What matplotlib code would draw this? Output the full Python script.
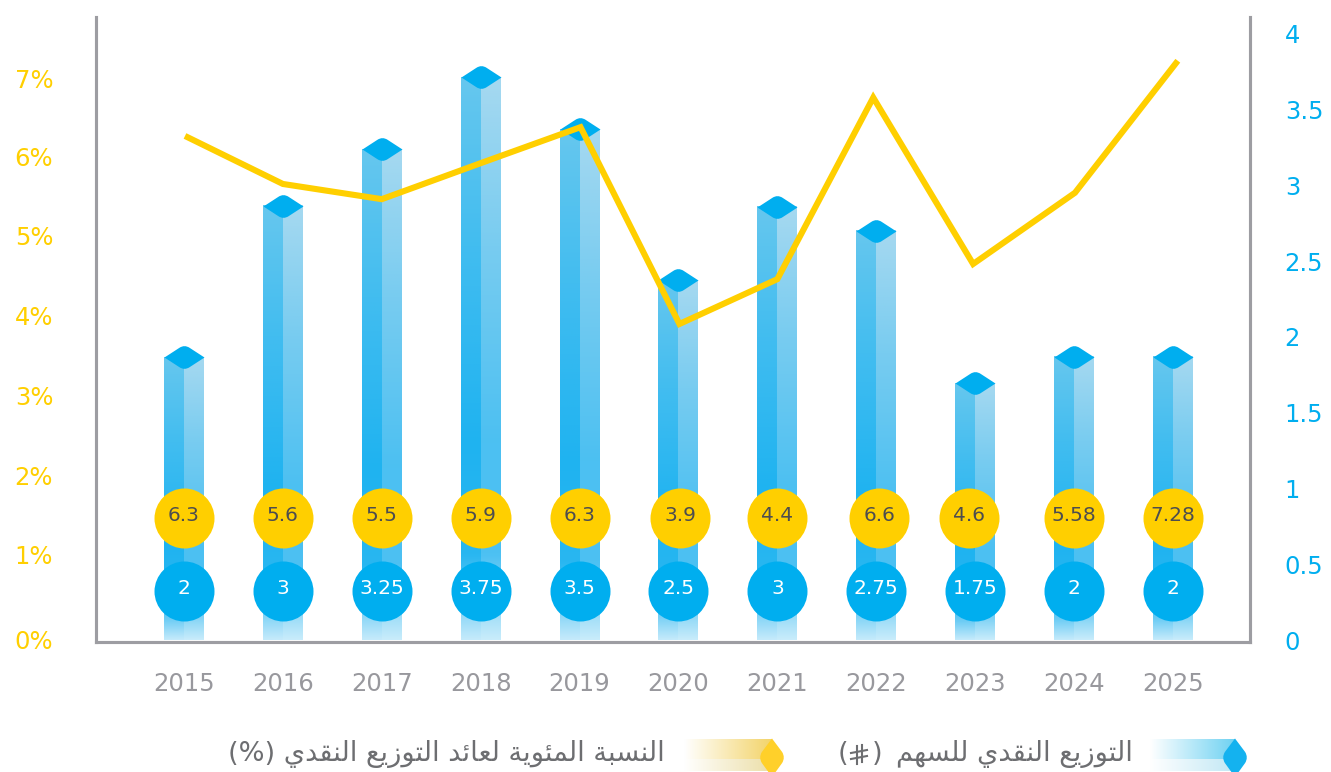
import numpy as np
import matplotlib
matplotlib.use("Agg")
import matplotlib.pyplot as plt
from matplotlib.path import Path
from matplotlib.patches import PathPatch
from matplotlib.lines import Line2D
from matplotlib.colors import to_rgb

plt.rcParams['font.family'] = ['DejaVu Sans']

years = ['2015','2016','2017','2018','2019','2020','2021','2022','2023','2024','2025']
dividend_labels = ['2','3','3.25','3.75','3.5','2.5','3','2.75','1.75','2','2']
yield_labels = ['6.3','5.6','5.5','5.9','6.3','3.9','4.4','6.6','4.6','5.58','7.28']
bar_heights = [1.865,2.865,3.24,3.715,3.37,2.375,2.86,2.70,1.695,1.87,1.87]
yield_line = [6.3,5.7,5.51,5.96,6.41,3.95,4.51,6.78,4.7,5.59,7.24]
yield_line_x = [0.01,0,0,0,0.01,0.01,0,-0.03,-0.02,0.01,0.05]
yield_badge_shift = [0,0,0,0,0,0.02,0,0.03,-0.06,0,0]
left_ticks = ['0%','1%','2%','3%','4%','5%','6%','7%']
left_tick_positions = [0,1.07,2.06,3.06,4.05,5.05,6.04,7.02]
right_ticks = ['0','0.5','1','1.5','2','2.5','3','3.5','4']
legend_dividend = 'التوزيع النقدي للسهم'
legend_yield = 'النسبة المئوية لعائد التوزيع النقدي'

FORMS = {'ا':(0xFE8D,None,None,0xFE8E),'ب':(0xFE8F,0xFE91,0xFE92,0xFE90),'ة':(0xFE93,None,None,0xFE94),
 'ت':(0xFE95,0xFE97,0xFE98,0xFE96),'د':(0xFEA9,None,None,0xFEAA),'ز':(0xFEAF,None,None,0xFEB0),
 'س':(0xFEB1,0xFEB3,0xFEB4,0xFEB2),'ع':(0xFEC9,0xFECB,0xFECC,0xFECA),'ق':(0xFED5,0xFED7,0xFED8,0xFED6),
 'ل':(0xFEDD,0xFEDF,0xFEE0,0xFEDE),'م':(0xFEE1,0xFEE3,0xFEE4,0xFEE2),'ن':(0xFEE5,0xFEE7,0xFEE8,0xFEE6),
 'ه':(0xFEE9,0xFEEB,0xFEEC,0xFEEA),'و':(0xFEED,None,None,0xFEEE),'ي':(0xFEF1,0xFEF3,0xFEF4,0xFEF2),
 'ئ':(0xFE89,0xFE8B,0xFE8C,0xFE8A)}

def shape(s):
    out = []
    for i, c in enumerate(s):
        if c not in FORMS:
            out.append(c); continue
        p = s[i-1] if i else ' '
        n = s[i+1] if i+1 < len(s) else ' '
        jp = p in FORMS and FORMS[p][1] is not None
        jn = n in FORMS and FORMS[c][1] is not None
        f = FORMS[c]
        idx = 2 if jp and jn else 3 if jp else 1 if jn else 0
        out.append(chr(f[idx]))
    return ''.join(reversed(out))

W, H = 1331, 772
fig = plt.figure(figsize=(W/100, H/100), dpi=100, facecolor='white')
L, R, T, B = 96, 1250, 17, 641.5
ax = fig.add_axes([L/W, 1-B/H, (R-L)/W, (B-T)/H])
tw = ax.twinx()
ax.set_zorder(2); ax.patch.set_visible(False)
tw.set_zorder(1)

x = np.arange(len(years))
xlim = (-0.89, 10.78)
yl = (-0.019, 7.787)
yr = (-0.0099, 4.112)

stops_l = [(0,'#66c7ee'),(0.3,'#42bdf0'),(0.65,'#1fb3f0'),(0.85,'#29b7f1'),(0.93,'#6fcdf5'),(1,'#c4eafb')]
stops_r = [(0,'#a6d9f0'),(0.3,'#78ccf0'),(0.65,'#4cc0f2'),(0.85,'#4dc1f3'),(0.93,'#8ad6f6'),(1,'#c8ecfb')]
def grad(stops, n=256):
    pos = [s[0] for s in stops]
    cols = np.array([to_rgb(s[1]) for s in stops])
    t = np.linspace(0, 1, n)
    return np.stack([np.interp(t, pos, cols[:, i]) for i in range(3)], axis=1)
gl, gr = grad(stops_l), grad(stops_r)
bw = 40/98.9
for xi, h in zip(x, bar_heights):
    tw.imshow(gl[:, None, :], extent=(xi-bw/2, xi, 0, h), aspect='auto', zorder=1, interpolation='bilinear')
    tw.imshow(gr[:, None, :], extent=(xi, xi+bw/2, 0, h), aspect='auto', zorder=1, interpolation='bilinear')

# rounded diamond cap
a, b, r = 20, 13, 0.25
cap = Path(np.array([(-a,0),(-a*r,b*(1-r)),(0,b),(a*r,b*(1-r)),(a,0),(a*r,-b*(1-r)),(0,-b),(-a*r,-b*(1-r)),(-a,0),(-a,0)],float)/a,
           [Path.MOVETO,Path.LINETO,Path.CURVE3,Path.CURVE3,Path.LINETO,Path.LINETO,Path.CURVE3,Path.CURVE3,Path.LINETO,Path.CLOSEPOLY])
tw.plot(x, bar_heights, ls='none', marker=cap, ms=40*0.72, mfc='#00AEEF', mec='none', zorder=3)

ax.plot(x+np.array(yield_line_x), yield_line, color='#FFCF00', lw=4.4, solid_joinstyle='miter', solid_capstyle='butt', zorder=3)

Y_Y, Y_B = 1.525, 0.6125
ms = 60*0.72
ax.plot(x+np.array(yield_badge_shift), [Y_Y]*len(x), ls='none', marker='o', ms=ms, mfc='#FFCF00', mec='none', zorder=4)
ax.plot(x, [Y_B]*len(x), ls='none', marker='o', ms=ms, mfc='#00AEEF', mec='none', zorder=4)
for xi, ds, a1, a2 in zip(x, yield_badge_shift, yield_labels, dividend_labels):
    ax.text(xi+ds, Y_Y+0.025, a1, ha='center', va='center', fontsize=14.5, color='#4D4D4F', zorder=5)
    ax.text(xi, Y_B+0.035, a2, ha='center', va='center', fontsize=14.5, color='white', zorder=5)

ax.set_xlim(*xlim); ax.set_ylim(*yl); tw.set_ylim(*yr)
tw.set_xlim(*xlim)
ax.set_xticks(x, years)
ax.set_yticks(left_tick_positions, left_ticks)
tw.set_yticks(np.arange(0, 4.01, 0.5), right_ticks)
ax.tick_params(axis='x', length=0, pad=21.7, labelsize=17.5, labelcolor='#98989D')
ax.tick_params(axis='y', length=0, pad=58.5, labelsize=17.5, labelcolor='#FFCF00')
for t in ax.get_yticklabels():
    t.set_ha('left')
tw.tick_params(axis='y', length=0, pad=25, labelsize=17.5, labelcolor='#00AEEF')
tw.tick_params(axis='x', length=0)
for a_ in (ax, tw):
    a_.spines['top'].set_visible(False)
    for s in ('left','right','bottom'):
        a_.spines[s].set_color('#9D9DA2'); a_.spines[s].set_linewidth(2.2)

# legend
def px_ax(x0, y0, x1, y1):
    a_ = fig.add_axes([x0/W, 1-y1/H, (x1-x0)/W, (y1-y0)/H])
    a_.set_xlim(x0, x1); a_.set_ylim(y1, y0); a_.axis('off')
    return a_

CAP_CODES = [Path.MOVETO,Path.LINETO,Path.CURVE3,Path.CURVE3,Path.LINETO,Path.LINETO,Path.CURVE3,Path.CURVE3,Path.LINETO,Path.CLOSEPOLY]
def swatch(x0, xd, col, light, dia):
    a_ = px_ax(x0, 738, xd+14, 772)
    c = np.array(to_rgb(col)); c2 = np.array(to_rgb(light))
    t = np.linspace(0, 1, 128)[None, :, None]
    a_.imshow((1-t)+t*c, extent=(x0, xd, 759, 739), aspect='auto', zorder=1)
    a_.imshow((1-t)+t*c2, extent=(x0, xd, 771, 759), aspect='auto', zorder=1)
    a_.set_xlim(x0, xd+14); a_.set_ylim(772, 738)
    w = 13.5
    vs = [(xd,738.5),(xd+w*0.75,752),(xd+w,757.5),(xd+w*0.75,763),(xd,777),(xd-w*0.75,763),(xd-w,757.5),(xd-w*0.75,752),(xd,738.5),(xd,738.5)]
    a_.add_patch(PathPatch(Path(vs, CAP_CODES), fc=dia, ec='none', zorder=2))

swatch(1150, 1235, '#6fd2f2', '#c2e8f5', '#14B2EF')
swatch(684, 772, '#f3d46a', '#ecdfa8', '#FFD02A')

TXT = '#6D6E71'
fs = 19.6
fig.text(665/W, 1-754/H, '(%) ' + shape(legend_yield), ha='right', va='center', fontsize=fs, color=TXT)
fig.text(1133/W, 1-754/H, shape(legend_dividend), ha='right', va='center', fontsize=fs, color=TXT)
fig.text(843/W, 1-754/H, '(', ha='center', va='center', fontsize=fs, color=TXT)
fig.text(877/W, 1-754/H, ')', ha='center', va='center', fontsize=fs, color=TXT)

# Saudi riyal sign, which no installed font carries
ov = fig.add_axes([0, 0, 1, 1]); ov.set_xlim(0, W); ov.set_ylim(H, 0); ov.axis('off')
for seg in [((857,746),(857,764)), ((862,745),(862,762)), ((851,753),(867,750)), ((851,759),(867,756))]:
    ov.add_line(Line2D(*zip(*seg), color=TXT, lw=1.5))
fig.savefig('out.png', dpi=100)
